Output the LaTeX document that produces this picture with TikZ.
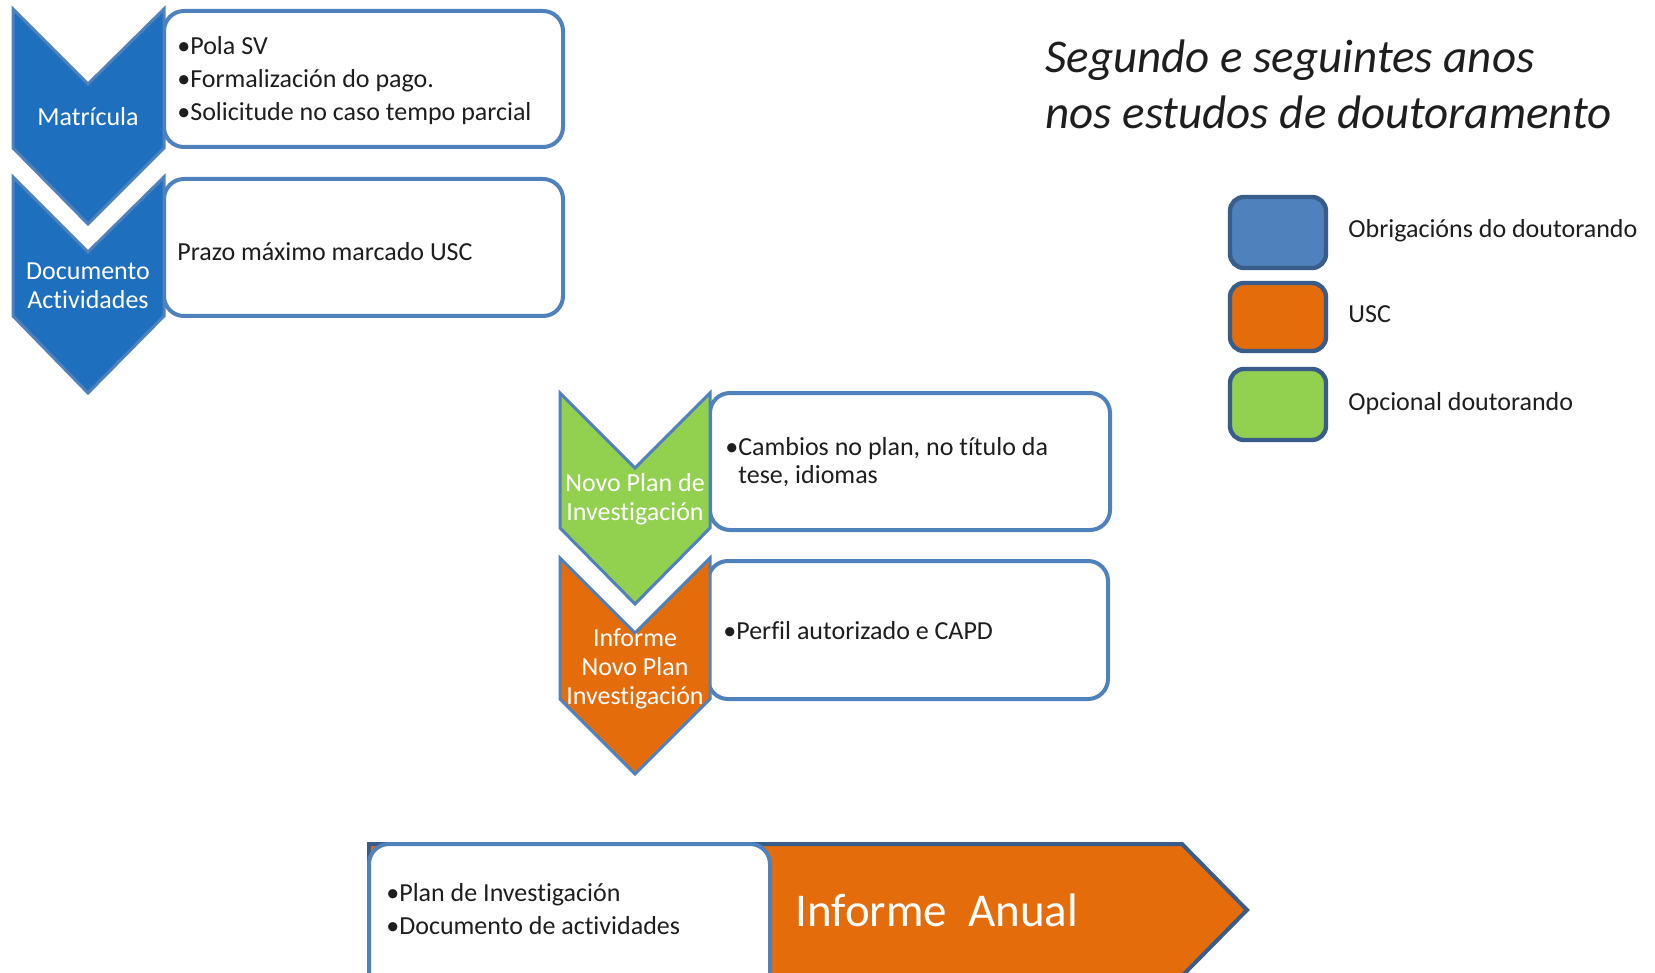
\documentclass[tikz,border=0pt]{standalone}
\usepackage{fontspec}
\setmainfont{Carlito}[Ligatures={NoCommon,NoRare},Contextuals=NoAlternate]
\definecolor{chevblue}{RGB}{31,111,191}
\definecolor{boxline}{RGB}{79,129,189}
\definecolor{legline}{RGB}{56,93,138}
\definecolor{legblue}{RGB}{79,129,189}
\definecolor{uscorange}{RGB}{228,108,10}
\definecolor{optgreen}{RGB}{146,208,80}
\definecolor{txtgray}{RGB}{30,30,30}
\tikzset{
  chev/.style={draw=boxline, line width=1.5pt, line join=miter},
  infobox/.style={draw=boxline, line width=2pt, fill=white, rounded corners=10pt},
  legbox/.style={draw=legline, line width=2.2pt, rounded corners=7pt},
  boxtext/.style={anchor=west, inner sep=0pt, align=left, text=txtgray,
    font=\fontsize{13}{16.5}\selectfont},
  chevtext/.style={inner sep=0pt, align=center, text=white,
    font=\fontsize{13}{14.5}\selectfont}
}
\begin{document}
\begin{tikzpicture}[x=0.5pt,y=-0.5pt]
  \clip (0,0) rectangle (1655,973);
  \fill[white] (0,0) rectangle (1655,973);

  \draw[infobox] (164,11) rectangle (563,147);
  \draw[infobox] (164,179) rectangle (563,316);
  \draw[chev, fill=chevblue] (13,9) -- (88,84) -- (164,9) -- (164,148) -- (88,224) -- (13,148) -- cycle;
  \draw[chev, fill=chevblue] (13,177) -- (88,252) -- (164,177) -- (164,316) -- (88,393) -- (13,316) -- cycle;
  \node[chevtext] (matricula) at (88,117) {Matrícula};
  \node[chevtext] (docact) at (88,286) {Documento\\Actividades};
  \node[boxtext] (pola) at (177,81) {•Pola SV\\•Formalización do pago.\\•Solicitude no caso tempo parcial};
  \node[boxtext] (prazo) at (177,252) {Prazo máximo marcado USC};

  \draw[infobox] (710,393) rectangle (1110,530);
  \draw[infobox] (708,561) rectangle (1108,699);
  \draw[chev, fill=optgreen] (560,393) -- (635,468) -- (710,393) -- (710,528) -- (635,604) -- (560,528) -- cycle;
  \draw[chev, fill=uscorange] (560,558) -- (635,633) -- (710,558) -- (710,699) -- (635,774) -- (560,699) -- cycle;
  \node[chevtext] (novoplan) at (635,499) {Novo Plan de\\Investigación};
  \node[chevtext] (informenovo) at (635,669) {Informe\\Novo Plan\\Investigación};
  \node[boxtext, font=\fontsize{13}{14.3}\selectfont] (cambios) at (725,462) {•Cambios no plan, no título da\\\hphantom{•}tese, idiomas};
  \node[boxtext] (perfil) at (723,631) {•Perfil autorizado e CAPD};

  \node[anchor=west, inner sep=0pt, align=left, text=txtgray,
    font=\fontsize{23.5}{28}\itshape] (title) at (1045,84) {Segundo e seguintes anos\\nos estudos de doutoramento};

  \draw[legbox, fill=legblue] (1230,197) rectangle (1326,268);
  \draw[legbox, fill=uscorange] (1230,283) rectangle (1326,351);
  \draw[legbox, fill=optgreen] (1230,369) rectangle (1326,440);
  \node[boxtext] (legobr) at (1348,231) {Obrigacións do doutorando};
  \node[boxtext] (legusc) at (1348,314) {USC};
  \node[boxtext] (legopc) at (1348,404) {Opcional doutorando};

  \draw[fill=uscorange, draw=legline, line width=2pt, line join=miter] (369,844) -- (1182,844) -- (1247,910) -- (1182,976) -- (369,976) -- cycle;
  \draw[infobox] (369,844) rectangle (770,1000);
  \node[boxtext] (plantext) at (386,909) {•Plan de Investigación\\•Documento de actividades};
  \node[anchor=west, inner sep=0pt, text=white,
    font=\fontsize{23.5}{28}\selectfont] (anual) at (795,910) {Informe\ \ Anual};
\end{tikzpicture}
\end{document}
